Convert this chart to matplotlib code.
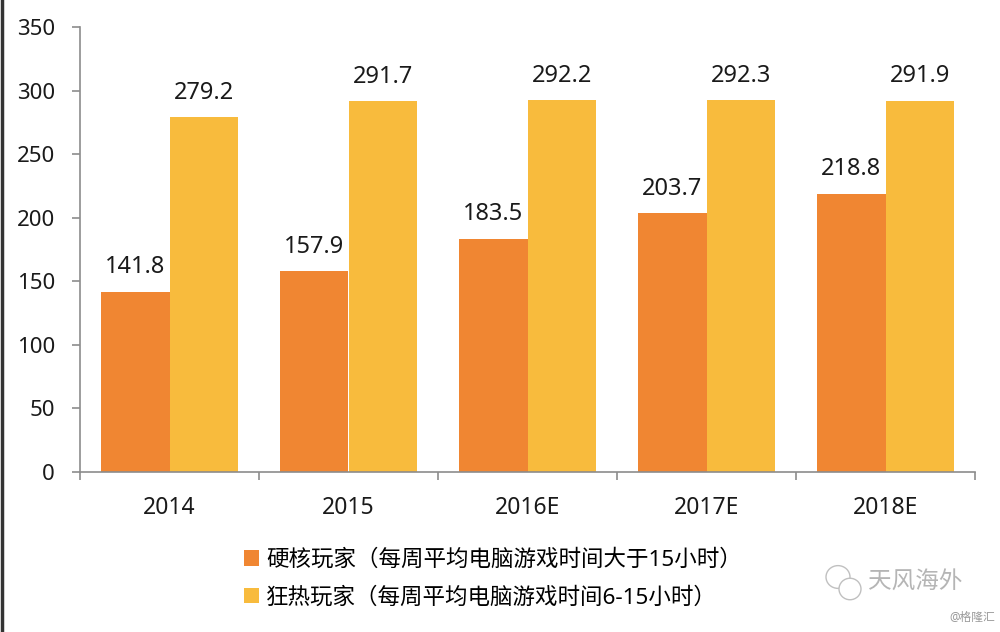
import matplotlib
matplotlib.use("Agg")
import matplotlib.pyplot as plt
from matplotlib.patches import Patch, Ellipse
from matplotlib.lines import Line2D
import numpy as np

plt.rcParams['font.family'] = ['Noto Sans', 'Noto Sans CJK SC', 'DejaVu Sans']

categories = ["2014", "2015", "2016E", "2017E", "2018E"]
hardcore = [141.8, 157.9, 183.5, 203.7, 218.8]
enthusiast = [279.2, 291.7, 292.2, 292.3, 291.9]
series_names = ["硬核玩家（每周平均电脑游戏时间大于15小时）",
                "狂热玩家（每周平均电脑游戏时间6-15小时）"]
yticks = [0, 50, 100, 150, 200, 250, 300, 350]

c_orange = "#F08632"
c_yellow = "#F8BB3D"
c_axis = "#8C8C8C"

fig = plt.figure(figsize=(10, 6.32), dpi=100)
ax = fig.add_axes([0.08, 1 - 472 / 632, 0.975 - 0.08, (472 - 27) / 632])

x = np.arange(len(categories))
w = 0.382
b1 = ax.bar(x - w / 2, hardcore, width=w, color=c_orange, linewidth=0)
b2 = ax.bar(x + w / 2, enthusiast, width=w, color=c_yellow, linewidth=0)

for bars, vals in ((b1, hardcore), (b2, enthusiast)):
    for r, v in zip(bars, vals):
        ax.annotate(f"{v:.1f}", (r.get_x() + r.get_width() / 2, v),
                    xytext=(0, 9), textcoords="offset points",
                    ha="center", va="bottom", fontsize=17, color="#1a1a1a")

ax.set_xlim(-0.5, len(categories) - 0.5)
ax.set_ylim(0, 350)
ax.set_yticks(yticks)
ax.set_yticklabels([str(t) for t in yticks])
ax.tick_params(axis="y", direction="out", length=6, width=1.2, color=c_axis,
               labelsize=16, pad=12, labelcolor="#1a1a1a")

ax.set_xticks(np.arange(-0.5, len(categories), 1.0))
ax.set_xticklabels([])
ax.set_xticks(x, minor=True)
ax.set_xticklabels(categories, minor=True)
ax.tick_params(axis="x", which="major", direction="out", length=6, width=1.2, color=c_axis)
ax.tick_params(axis="x", which="minor", length=0, labelsize=16.5, pad=17, labelcolor="#1a1a1a")

for s in ("top", "right"):
    ax.spines[s].set_visible(False)
for s in ("left", "bottom"):
    ax.spines[s].set_color(c_axis)
    ax.spines[s].set_linewidth(1.2)

handles = [Patch(facecolor=c_orange, edgecolor="none"),
           Patch(facecolor=c_yellow, edgecolor="none")]
fig.legend(handles, series_names, loc="center left",
           bbox_to_anchor=(0.244, 1 - 579 / 632), frameon=False,
           fontsize=16.2, handlelength=0.65, handleheight=0.65,
           handletextpad=0.32, labelspacing=0.72, borderpad=0,
           borderaxespad=0)

# watermark
fig.text(0.868, 1 - 582 / 632, "天风海外", fontsize=17, color="#b5b5b5",
         ha="left", va="center")
fig.text(0.995, 1 - 617 / 632, "@格隆汇", fontsize=8.5, color="#9a9a9a",
         ha="right", va="center")
fig.add_artist(Ellipse((0.838, 1 - 577 / 632), 0.024, 0.036, transform=fig.transFigure,
                       fill=False, edgecolor="#c0c0c0", lw=1.0))
fig.add_artist(Ellipse((0.850, 1 - 589 / 632), 0.022, 0.034, transform=fig.transFigure,
                       facecolor="white", edgecolor="#c0c0c0", lw=1.0))

# left border line
fig.add_artist(Line2D([0.0015, 0.0015], [0, 1], transform=fig.transFigure,
                      color="#333333", lw=2.5))

fig.savefig("out.png", dpi=100, facecolor="white")
